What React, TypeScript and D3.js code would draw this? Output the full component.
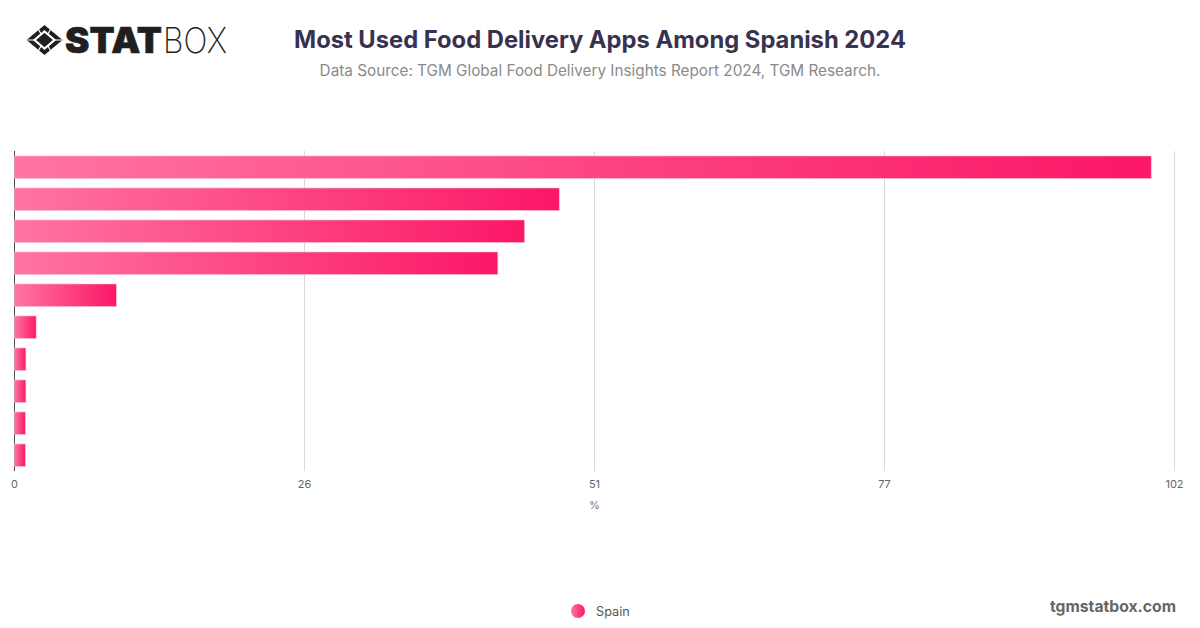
import React from 'react';
import * as d3 from 'd3';

// the reference hides the app names, so bars are only identified by rank
const ranks = ['1', '2', '3', '4', '5', '6', '7', '8', '9', '10'];
const spain = [99.95, 47.9, 44.85, 42.5, 8.95, 1.9, 1, 1, 0.95, 0.95];
const tickValues = [0, 25.5, 51, 76.5, 102];

const width = 1200;
const height = 628;

const x = d3.scaleLinear().domain([0, 102]).range([14.5, 1174.5]);
const y = d3.scaleBand<string>().domain(ranks).range([151.2, 471.2]).paddingInner(0.3).paddingOuter(0.15);

const Logo = () => (
  <g>
    <path d="M44.5 25 L62.5 40 L44.5 55 L26.5 40 Z" fill="#1f1f21" />
    <path d="M44.5 31.5 L54.5 40 L44.5 48.5 L34.5 40 Z" fill="#1f1f21" stroke="#fff" strokeWidth={2.2} />
    <path d="M27 40 L34.5 40 M54.5 40 L62 40 M38 28.5 L41 34 M51 28.5 L48 34 M38 51.5 L41 46 M51 51.5 L48 46" stroke="#fff" strokeWidth={1.2} />
    <text x={65} y={53} fontFamily="Inter" fontWeight={900} fontSize={35} fill="#1f1f21" stroke="#1f1f21" strokeWidth={0.6} textLength={97} lengthAdjust="spacingAndGlyphs">STAT</text>
    <text x={163} y={53} fontFamily="Inter" fontWeight={200} fontSize={35} fill="#1f1f21" textLength={64} lengthAdjust="spacingAndGlyphs">BOX</text>
  </g>
);

const App = () => {
  return (
    <svg width={width} height={height} style={{ position: 'absolute', left: 0, top: 0, background: '#fff' }}>
      <defs>
        <linearGradient id="barFill" x1="0" x2="1" y1="0" y2="0">
          <stop offset="0%" stopColor="#ff74a3" />
          <stop offset="100%" stopColor="#fb1767" />
        </linearGradient>
        <linearGradient id="dotFill" x1="0" x2="1" y1="0" y2="0">
          <stop offset="0%" stopColor="#ff74a3" />
          <stop offset="100%" stopColor="#fb1767" />
        </linearGradient>
      </defs>

      <Logo />

      <text x={600} y={47.5} textAnchor="middle" fontFamily="Inter" fontWeight={700} fontSize={23.75} fill="#36324f">
        Most Used Food Delivery Apps Among Spanish 2024
      </text>
      <text x={600} y={76} textAnchor="middle" fontFamily="Inter" fontSize={15.3} fill="#8a8a8a">
        Data Source: TGM Global Food Delivery Insights Report 2024, TGM Research.
      </text>

      {tickValues.slice(1).map((t) => (
        <line key={t} x1={x(t)} x2={x(t)} y1={151} y2={471} stroke="#d9d9d9" strokeWidth={1} />
      ))}
      <line x1={x(0)} x2={x(0)} y1={151} y2={471} stroke="#444" strokeWidth={1} />

      {ranks.map((r, i) => (
        <rect
          key={r}
          x={x(0)}
          y={y(r)}
          width={x(spain[i]) - x(0)}
          height={y.bandwidth()}
          fill="url(#barFill)"
          stroke="#ffb3cc"
          strokeWidth={0.6}
        />
      ))}

      {tickValues.map((t) => (
        <text key={t} x={x(t)} y={488} textAnchor="middle" fontFamily="Inter" fontSize={11} fill="#666">
          {Math.round(t)}
        </text>
      ))}
      <text x={x(51)} y={509} textAnchor="middle" fontFamily="Inter" fontSize={11} fill="#777">%</text>

      <circle cx={578} cy={611} r={7} fill="url(#dotFill)" />
      <text x={596} y={616} fontFamily="Inter" fontSize={12.7} fill="#555">Spain</text>

      <text x={1176} y={611.5} textAnchor="end" fontFamily="Inter" fontWeight={700} fontSize={15.7} fill="#666">
        tgmstatbox.com
      </text>
    </svg>
  );
};

export default App;
